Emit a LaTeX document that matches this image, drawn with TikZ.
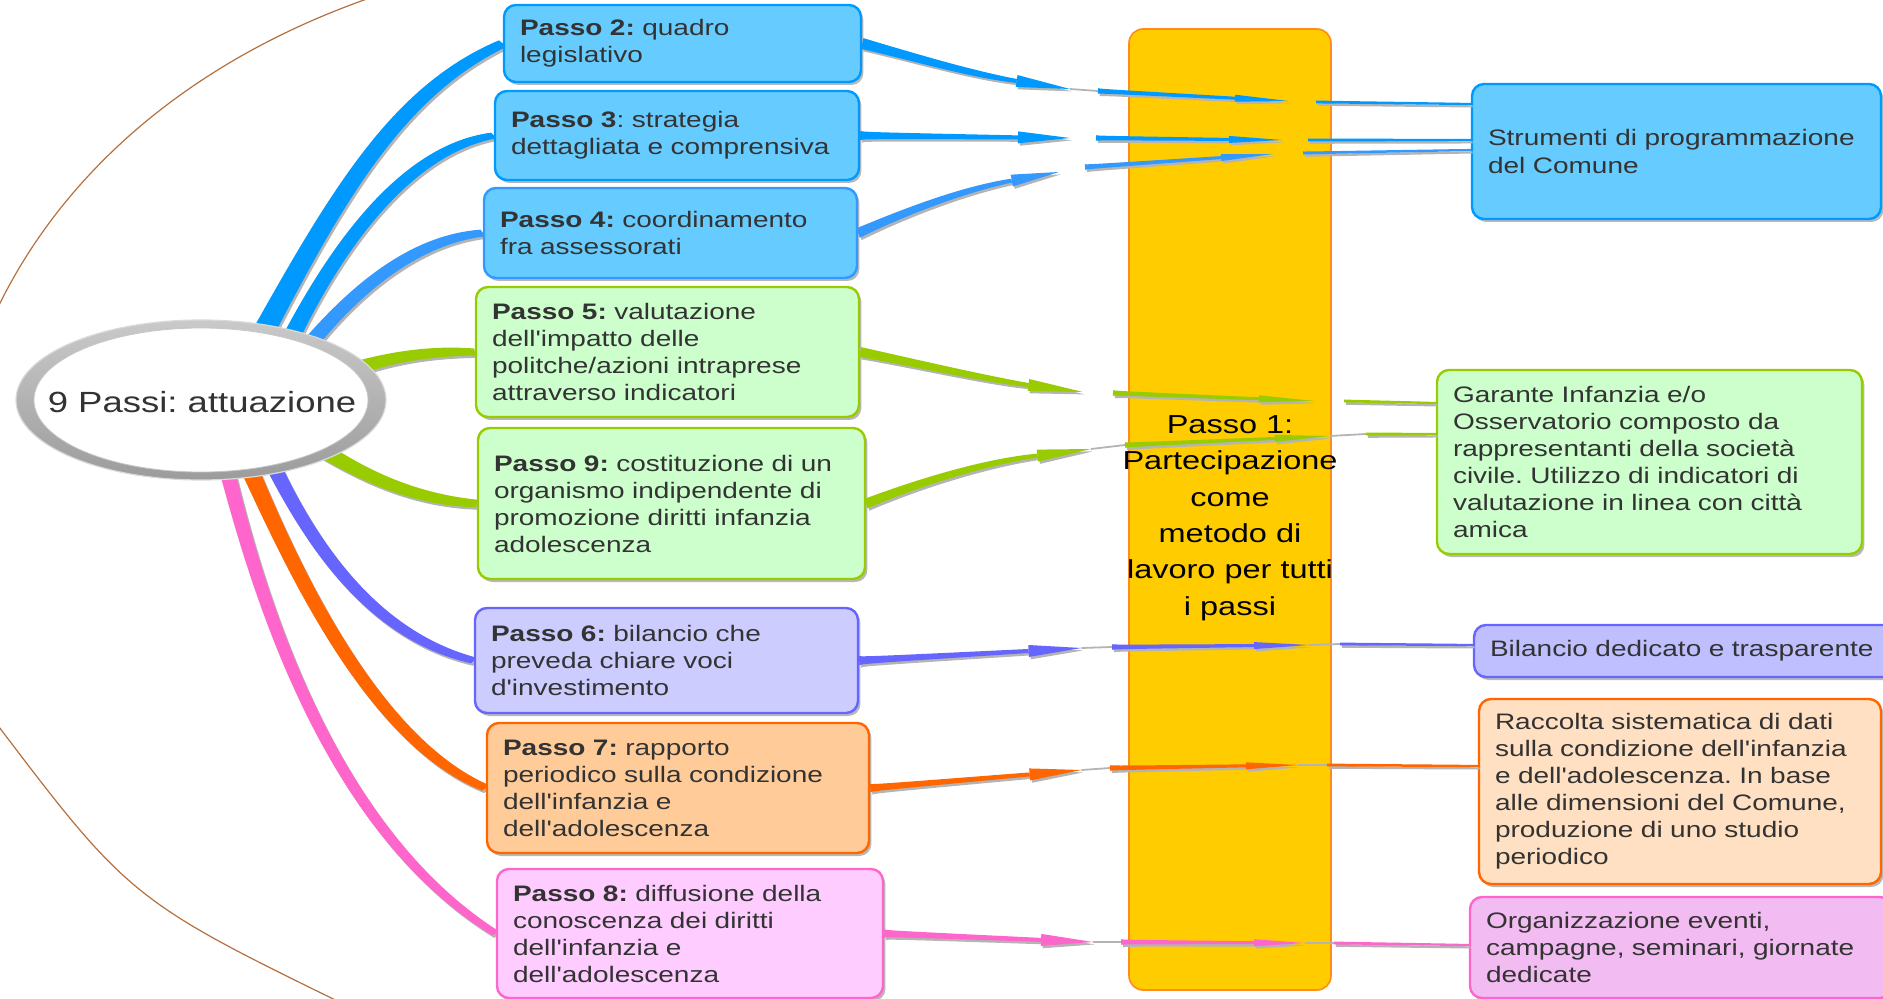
\documentclass[tikz,border=0pt]{standalone}
\usepackage{fontspec}
\newfontfamily\lsans{Liberation Sans}[FakeStretch=1.25]
\usetikzlibrary{calc,shadows,shapes.geometric}
\pgfdeclarelayer{back}
\pgfsetlayers{back,main}
\frenchspacing
\definecolor{txt}{HTML}{333333}
\definecolor{blueA}{HTML}{0099FF}
\definecolor{blueB}{HTML}{3399FF}
\definecolor{blueFill}{HTML}{66CCFF}
\definecolor{greenA}{HTML}{99CC00}
\definecolor{greenFill}{HTML}{CCFFCC}
\definecolor{violA}{HTML}{6666FF}
\definecolor{violFill}{HTML}{CCCCFF}
\definecolor{violFillB}{HTML}{BFBFFF}
\definecolor{orA}{HTML}{FF6600}
\definecolor{orFill}{HTML}{FFCC99}
\definecolor{orFillB}{HTML}{FFE0C2}
\definecolor{pkA}{HTML}{FF66CC}
\definecolor{pkFill}{HTML}{FFCCFF}
\definecolor{pkFillB}{HTML}{F2BBF2}
\definecolor{yel}{HTML}{FFCC00}
\definecolor{yelB}{HTML}{FF8C1A}
\definecolor{arcc}{HTML}{B5703F}
\definecolor{shd}{HTML}{B4B4B4}
\newcommand\boxfont{\lsans\fontsize{11.2}{13.5}\selectfont}
\newcommand\cenfont{\lsans\fontsize{14.6}{17}\selectfont}
\newcommand\onefont{\lsans\fontsize{13}{18.2}\selectfont}
% tapered band: color, P0, C1, C2, P3, w0(pt), w1(pt)
\newcommand\bandpath[7]{%
 \path[fill=#1] let \p1=(#2), \p2=(#5), \n1={atan2(\y2-\y1,\x2-\x1)+90}, \n2={\n1+180}, \n3={(#6+#7)*0.25} in
 ($(#2)+(\n1:#6*0.5pt)$) .. controls ($(#3)+(\n1:\n3*1pt)$) and ($(#4)+(\n1:\n3*1pt)$) .. ($(#5)+(\n1:#7*0.5pt)$)
 -- ($(#5)+(\n2:#7*0.5pt)$) .. controls ($(#4)+(\n2:\n3*1pt)$) and ($(#3)+(\n2:\n3*1pt)$) .. ($(#2)+(\n2:#6*0.5pt)$) -- cycle;}
\newcommand\band[7]{%
 \begin{scope}[transform canvas={shift={(0.9pt,-1.2pt)}}]\bandpath{shd}{#2}{#3}{#4}{#5}{#6}{#7}\end{scope}%
 \bandpath{#1}{#2}{#3}{#4}{#5}{#6}{#7}}
% arrow head: color, tip, ref, len(pt), hw(pt)
\newcommand\ahead[5]{%
 \path[fill=#1] let \p1=(#2), \p2=($(#2)!#4pt!(#3)$), \n1={atan2(\y1-\y2,\x1-\x2)+90}, \n2={\n1+180} in
 (#2) -- ($(\p2)+(\n1:#5pt)$) -- ($(\p2)+(\n2:#5pt)$) -- cycle;}
% arrow segment: color, start, c1, c2, tip, w0, w1, len, hw
\newcommand\arrseg[9]{%
 \coordinate (tmpb) at ($(#5)!#8pt!(#4)$);
 \begin{scope}[transform canvas={shift={(0.9pt,-1.2pt)}}]\bandpath{shd}{#2}{#3}{#4}{tmpb}{#6}{#7}\ahead{shd}{#5}{#4}{#8}{#9}\end{scope}%
 \bandpath{#1}{#2}{#3}{#4}{tmpb}{#6}{#7}\ahead{#1}{#5}{#4}{#8}{#9}}
\tikzset{
 stepbox/.style={rectangle, rounded corners=6pt, line width=1.2pt, align=left, inner xsep=8pt, inner ysep=0pt, text=txt, font=\boxfont,
   drop shadow={shadow xshift=1.2pt, shadow yshift=-1.5pt, fill=black, opacity=0.28}},
 gapline/.style={draw=shd, line width=0.9pt},
}
\begin{document}
\begin{tikzpicture}[x=0.5pt,y=-0.5pt]
\useasboundingbox (0,0) rectangle (1883,999);

% ---- left boxes
\node[stepbox, fill=blueFill, draw=blueA, minimum width=178.5pt, minimum height=38.5pt, text width=162.5pt] (p2) at (682.5,43.5) {\textbf{Passo 2:} quadro\\legislativo};
\node[stepbox, fill=blueFill, draw=blueA, minimum width=182pt, minimum height=44.5pt, text width=166pt] (p3) at (677,135.5) {\textbf{Passo 3}: strategia\\dettagliata e comprensiva};
\node[stepbox, fill=blueFill, draw=blueB, minimum width=186.5pt, minimum height=45pt, text width=170.5pt] (p4) at (670.5,233) {\textbf{Passo 4:} coordinamento\\fra assessorati};
\node[stepbox, fill=greenFill, draw=greenA, minimum width=191.5pt, minimum height=65pt, text width=175.5pt] (p5) at (667.5,352) {\textbf{Passo 5:} valutazione\\dell'impatto delle\\politche/azioni intraprese\\attraverso indicatori};
\node[stepbox, fill=greenFill, draw=greenA, minimum width=193.5pt, minimum height=75.5pt, text width=177.5pt] (p9) at (671.5,503.5) {\textbf{Passo 9:} costituzione di un\\organismo indipendente di\\promozione diritti infanzia\\adolescenza};
\node[stepbox, fill=violFill, draw=violA, minimum width=191.5pt, minimum height=52.5pt, text width=175.5pt] (p6) at (666.5,660.5) {\textbf{Passo 6:} bilancio che\\preveda chiare voci\\d'investimento};
\node[stepbox, fill=orFill, draw=orA, minimum width=191pt, minimum height=65pt, text width=175pt] (p7) at (678,788) {\textbf{Passo 7:} rapporto\\periodico sulla condizione\\dell'infanzia e\\dell'adolescenza};
\node[stepbox, fill=pkFill, draw=pkA, minimum width=193pt, minimum height=64.5pt, text width=177pt] (p8) at (690,933.5) {\textbf{Passo 8:} diffusione della\\conoscenza dei diritti\\dell'infanzia e\\dell'adolescenza};

% ---- right boxes
\node[stepbox, fill=blueFill, draw=blueA, minimum width=204.5pt, minimum height=67.5pt, text width=188.5pt] (r1) at (1676.5,151.5) {Strumenti di programmazione\\del Comune};
\node[stepbox, fill=greenFill, draw=greenA, minimum width=212.5pt, minimum height=92pt, text width=196.5pt] (r2) at (1649.5,462) {Garante Infanzia e/o\\Osservatorio composto da\\rappresentanti della società\\civile. Utilizzo di indicatori di\\valutazione in linea con città\\amica};
\node[stepbox, fill=violFillB, draw=violA, minimum width=215pt, minimum height=26pt, text width=199pt] (r3) at (1689,651) {Bilancio dedicato e trasparente};
\node[stepbox, fill=orFillB, draw=orA, minimum width=201pt, minimum height=92.5pt, text width=185pt] (r4) at (1680,791.5) {Raccolta sistematica di dati\\sulla condizione dell'infanzia\\e dell'adolescenza. In base\\alle dimensioni del Comune,\\produzione di uno studio\\periodico};
\node[stepbox, fill=pkFillB, draw=pkA, minimum width=211pt, minimum height=50.5pt, text width=195pt] (r5) at (1681,947.5) {Organizzazione eventi,\\campagne, seminari, giornate\\dedicate};

% ---- Passo 1
\node[draw=yelB, fill=yel, line width=0.8pt, rounded corners=7pt, minimum width=101pt, minimum height=480.5pt, inner sep=0pt] (p1) at (1230,509.5) {};
\node[font=\onefont, align=center, text=black, inner sep=0pt] (p1t) at (1230,518) {Passo 1:\\Partecipazione\\come\\metodo di\\lavoro per tutti\\i passi};

% ---- central ellipse
\node[ellipse, minimum width=185pt, minimum height=80pt, inner sep=0pt, top color=gray!42, bottom color=gray!78, draw=gray!30, line width=0.6pt,
  path picture={\fill[white] (path picture bounding box.center) ellipse [x radius=83.5pt, y radius=36pt];
  \draw[gray!45, line width=0.4pt] (path picture bounding box.center) ellipse [x radius=83.5pt, y radius=36pt];}] (c) at (201,400) {};
\node[font=\cenfont, text=txt, inner sep=0pt] (ct) at (202,402) {9 Passi: attuazione};

% ---- coordinates for connectors
\coordinate (k2a) at (910,56); \coordinate (k2b) at (970,74);
\coordinate (a2t) at (1070,89); \coordinate (b2s) at (1098,91); \coordinate (b2t) at (1288,101); \coordinate (c2s) at (1316,102);
\coordinate (c2e) at ($(r1.west)+(0,-47.5)$);
\coordinate (a3t) at (1070,138); \coordinate (b3s) at (1096,138); \coordinate (b3t) at (1282,140); \coordinate (c3s) at (1308,140);
\coordinate (c3e) at ($(r1.west)+(0,-11.5)$);
\coordinate (k4a) at (900,214); \coordinate (k4b) at (960,190);
\coordinate (a4t) at (1059,172); \coordinate (b4s) at (1085,167); \coordinate (b4t) at (1273,154); \coordinate (c4s) at (1303,153);
\coordinate (c4e) at ($(r1.west)+(0,-1.5)$);
\coordinate (k5a) at (920,364); \coordinate (k5b) at (990,380);
\coordinate (a5t) at (1083,392); \coordinate (b5s) at (1113,393); \coordinate (b5t) at (1315,401); \coordinate (c5s) at (1344,401);
\coordinate (c5e) at ($(r2.west)+(0,-59)$);
\coordinate (k9a) at (920,482); \coordinate (k9b) at (985,462);
\coordinate (a9t) at (1091,449); \coordinate (b9s) at (1125,445); \coordinate (b9t) at (1330,436); \coordinate (c9s) at (1366,434);
\coordinate (c9e) at ($(r2.west)+(0,-28)$);
\coordinate (a6t) at (1081.5,648); \coordinate (b6s) at (1112,647); \coordinate (b6t) at (1309,645); \coordinate (c6s) at (1340,644);
\coordinate (c6e) at ($(r3.west)+(0,-6)$);
\coordinate (a7t) at (1081.5,770); \coordinate (b7s) at (1110,768); \coordinate (b7t) at (1298,765); \coordinate (c7s) at (1327,765);
\coordinate (c7e) at ($(r4.west)+(0,-25.5)$);
\coordinate (a8t) at (1093,942); \coordinate (b8s) at (1121,942); \coordinate (b8t) at (1305,943); \coordinate (c8s) at (1334,943);
\coordinate (c8e) at ($(r5.west)+(0,-2.5)$);

\coordinate (s2) at (262,335); \coordinate (q2a) at (340,190); \coordinate (q2b) at (400,90);
\coordinate (s3) at (290,340); \coordinate (q3a) at (330,260); \coordinate (q3b) at (400,150);
\coordinate (s4) at (305,350); \coordinate (q4a) at (350,295); \coordinate (q4b) at (410,240);
\coordinate (s5) at (350,370); \coordinate (q5a) at (400,354); \coordinate (q5b) at (440,351);
\coordinate (s9) at (320,448); \coordinate (q9a) at (370,480); \coordinate (q9b) at (420,500);
\coordinate (s6) at (273,465); \coordinate (q6a) at (310,540); \coordinate (q6b) at (370,635);
\coordinate (s7) at (250,470); \coordinate (q7a) at (290,560); \coordinate (q7b) at (370,740);
\coordinate (s8) at (227,470); \coordinate (q8a) at (260,600); \coordinate (q8b) at (330,830);

% ---- background: arc and bands from the ellipse
\begin{pgfonlayer}{back}
\draw[arcc, line width=0.6pt] (-8,320) .. controls (60,170) and (200,50) .. (400,-12);
\draw[arcc, line width=0.6pt] (-10,715) .. controls (130,900) .. (360,1012);
\band{pkA}{s8}{q8a}{q8b}{p8.west}{8}{4}
\band{orA}{s7}{q7a}{q7b}{p7.west}{9}{4.5}
\band{violA}{s6}{q6a}{q6b}{p6.west}{8}{4}
\band{greenA}{s9}{q9a}{q9b}{p9.west}{8}{4}
\band{greenA}{s5}{q5a}{q5b}{p5.west}{7}{3.5}
\band{blueB}{s4}{q4a}{q4b}{p4.west}{8}{4}
\band{blueA}{s3}{q3a}{q3b}{p3.west}{9}{4}
\band{blueA}{s2}{q2a}{q2b}{p2.west}{11}{5}
\end{pgfonlayer}

% ---- grey gap lines
\draw[gapline] (a2t) -- (b2s);
\draw[gapline] (a9t) -- (b9s); \draw[gapline] (b9t) -- (c9s);
\draw[gapline] (a6t) -- (b6s); \draw[gapline] (b6t) -- (c6s);
\draw[gapline] (a7t) -- (b7s); \draw[gapline] (b7t) -- (c7s);
\draw[gapline] (a8t) -- (b8s); \draw[gapline] (b8t) -- (c8s);

% ---- connectors to the right
\arrseg{blueA}{p2.east}{k2a}{k2b}{a2t}{5.5}{2}{27}{3}
\arrseg{blueA}{b2s}{b2s}{b2s}{b2t}{3}{1.5}{26.5}{1.75}
\band{blueA}{c2s}{c2s}{c2e}{c2e}{1.5}{1}

\arrseg{blueA}{p3.east}{p3.east}{p3.east}{a3t}{5}{2}{26}{3}
\arrseg{blueA}{b3s}{b3s}{b3s}{b3t}{3}{1.5}{26.5}{1.75}
\band{blueA}{c3s}{c3s}{c3e}{c3e}{1.5}{1}

\arrseg{blueB}{p4.east}{k4a}{k4b}{a4t}{5}{2}{24}{3}
\arrseg{blueB}{b4s}{b4s}{b4s}{b4t}{3}{1.5}{26}{1.75}
\band{blueB}{c4s}{c4s}{c4e}{c4e}{1.5}{1}

\arrseg{greenA}{p5.east}{k5a}{k5b}{a5t}{5}{2}{27.5}{3}
\arrseg{greenA}{b5s}{b5s}{b5s}{b5t}{3}{1.5}{28}{1.75}
\band{greenA}{c5s}{c5s}{c5e}{c5e}{1.5}{1}

\arrseg{greenA}{p9.east}{k9a}{k9b}{a9t}{5}{2}{27}{3}
\arrseg{greenA}{b9s}{b9s}{b9s}{b9t}{3}{1.5}{27.5}{1.75}
\band{greenA}{c9s}{c9s}{c9e}{c9e}{1.5}{1}

\arrseg{violA}{p6.east}{p6.east}{p6.east}{a6t}{5}{2}{26.5}{3}
\arrseg{violA}{b6s}{b6s}{b6s}{b6t}{3}{1.5}{27.5}{1.75}
\band{violA}{c6s}{c6s}{c6e}{c6e}{1.5}{1}

\arrseg{orA}{p7.east}{p7.east}{p7.east}{a7t}{4.5}{2}{26}{3}
\arrseg{orA}{b7s}{b7s}{b7s}{b7t}{3}{1.5}{26}{1.75}
\band{orA}{c7s}{c7s}{c7e}{c7e}{1.5}{1}

\arrseg{pkA}{p8.east}{p8.east}{p8.east}{a8t}{4.5}{2}{26}{3}
\arrseg{pkA}{b8s}{b8s}{b8s}{b8t}{3}{1.5}{25.5}{1.75}
\band{pkA}{c8s}{c8s}{c8e}{c8e}{1.5}{1}
\end{tikzpicture}
\end{document}
